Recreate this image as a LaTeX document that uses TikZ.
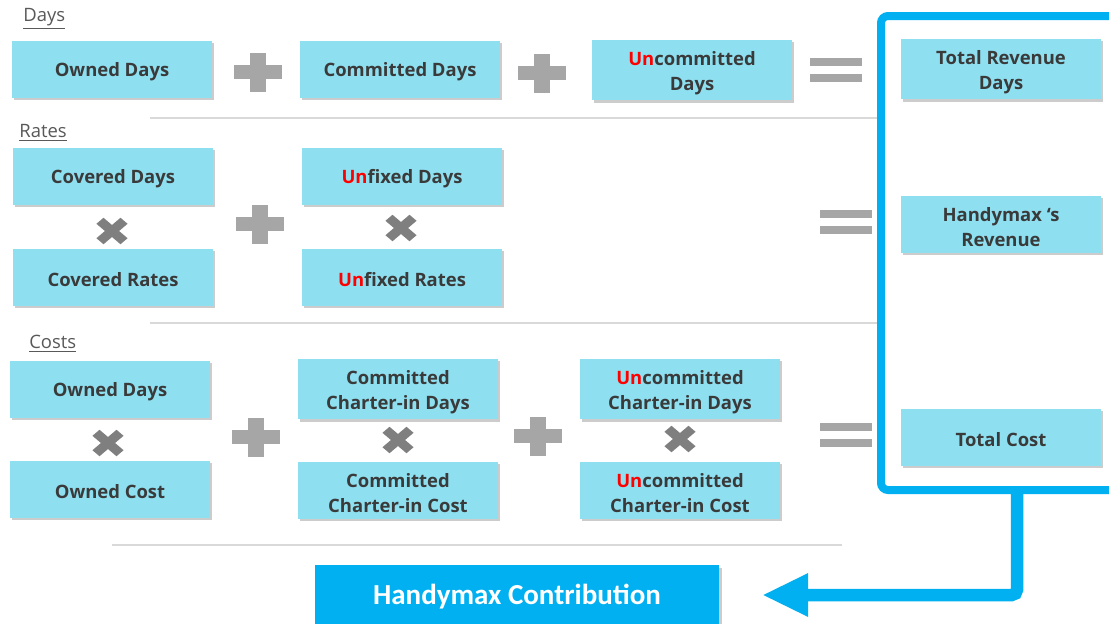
\documentclass[tikz,border=0pt]{standalone}
\usepackage{fontspec}
\setmainfont{Open Sans}
\newfontfamily\calibri{Carlito}
\usetikzlibrary{arrows.meta,shadows}

\definecolor{boxcyan}{HTML}{8EE0F1}
\definecolor{framebl}{HTML}{00B0F0}
\definecolor{txtgray}{HTML}{3A3A3A}
\definecolor{signgray}{HTML}{A6A6A6}
\definecolor{timesgray}{HTML}{7F7F7F}
\newcommand\un{\textcolor{red}{Un}}
\newcommand\topstrut{\rule{0pt}{11.4pt}}
% two centred lines, the first one pushed down a little
\newcommand\twolines[2]{\topstrut#1\\#2}

\tikzset{
  box/.style={rectangle, fill=boxcyan, minimum width=4cm, minimum height=1.14cm,
    align=center, text=txtgray, font=\bfseries\fontsize{10.5}{14}\selectfont,
    execute at begin node=\topstrut,
    drop shadow={shadow xshift=1.3pt, shadow yshift=-1.5pt, opacity=.4}},
  contrib/.style={rectangle, fill=framebl, minimum width=8.1cm, minimum height=1.28cm,
    text=white, font=\calibri\bfseries\fontsize{16.5}{18}\selectfont,
    drop shadow={shadow xshift=1.3pt, shadow yshift=-1.5pt, opacity=.4}},
  section/.style={anchor=west, inner sep=0pt, text=black!65, font=\fontsize{10.5}{12}\selectfont},
  sepline/.style={black!15, line width=0.8pt},
  plus/.pic={
    \fill[signgray] (-24,-7) rectangle (24,7);
    \fill[signgray] (-8,-19.5) rectangle (8,19.5);},
  times/.pic={
    \begin{scope}[yscale=.85, rotate=45]
      \fill[timesgray] (-17,-5) rectangle (17,5);
      \fill[timesgray] (-5,-17) rectangle (5,17);
    \end{scope}},
  equal/.pic={
    \fill[signgray] (-26,-12) rectangle (26,-4);
    \fill[signgray] (-26,4) rectangle (26,12);}
}

\begin{document}
\begin{tikzpicture}[x=0.02cm, y=-0.02cm]
  \path[use as bounding box, fill=white] (0,0) rectangle (1109,623);
  \clip (0,0) rectangle (1109,623);

  % section titles and rules
  \node[section] (lbldays) at (23,19) {\underline{Days}};
  \node[section] (lblrates) at (19,133) {\underline{Rates}};
  \node[section] (lblcosts) at (29,344) {\underline{Costs}};
  \draw[sepline] (150,118) -- (880,118);
  \draw[sepline] (150,323) -- (880,323);
  \draw[sepline] (112,545) -- (842,545);

  % days
  \node[box] (owned) at (112,69) {Owned Days};
  \node[box] (committed) at (400,69) {Committed Days};
  \node[box] (uncommitted) at (692,70) {\twolines{\un committed}{Days}};
  \pic at (258,72) {plus};
  \pic at (542,73) {plus};
  \pic at (836,70) {equal};

  % rates
  \node[box] (covdays) at (113,176) {Covered Days};
  \node[box] (covrates) at (113,277) {Covered Rates};
  \node[box] (unfdays) at (402,176) {\un fixed Days};
  \node[box] (unfrates) at (402,277) {\un fixed Rates};
  \pic at (112,231) {times};
  \pic at (260,224) {plus};
  \pic at (401,228) {times};
  \pic at (846,222) {equal};

  % costs
  \node[box] (owndays) at (110,389) {Owned Days};
  \node[box] (owncost) at (110,489) {Owned Cost};
  \node[box] (comdays) at (398,389) {\twolines{Committed}{Charter-in Days}};
  \node[box] (comcost) at (398,490) {\twolines{Committed}{Charter-in Cost}};
  \node[box] (uncdays) at (680,389) {\twolines{\un committed}{Charter-in Days}};
  \node[box] (unccost) at (680,490) {\twolines{\un committed}{Charter-in Cost}};
  \pic at (108,443) {times};
  \pic at (256,437) {plus};
  \pic at (398,440) {times};
  \pic at (538,436) {plus};
  \pic at (680,439) {times};
  \pic at (846,435) {equal};

  % results column
  \draw[framebl, line width=0.16cm, rounded corners=4] (1140,16) -- (881,16) -- (881,490) -- (1140,490);
  \node[box] (totrev) at (1001,69) {\twolines{Total Revenue}{Days}};
  \node[box] (revenue) at (1001,224) {\twolines{Handymax ‘s}{Revenue}};
  \node[box] (totcost) at (1001,437) {Total Cost};

  % contribution
  \node[contrib] (contrib) at (517,597) {Handymax Contribution};
  \coordinate (framefoot) at (1017,490);
  \coordinate (tip) at (762,595);
  \draw[framebl, line width=0.25cm, rounded corners=3, -{Triangle[length=0.92cm,width=0.8cm]}] (framefoot) |- (tip);
\end{tikzpicture}
\end{document}
